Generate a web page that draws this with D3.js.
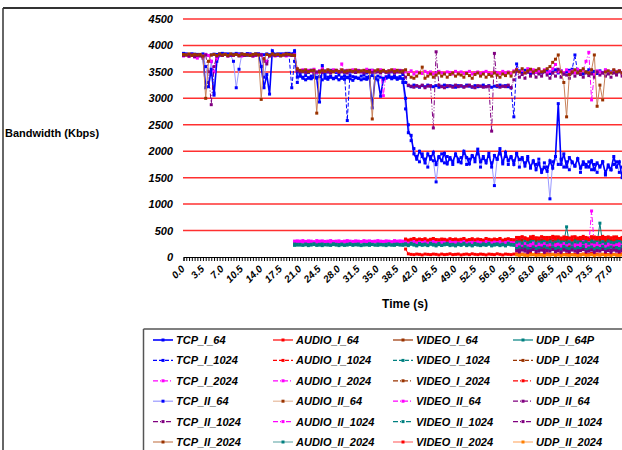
<!DOCTYPE html>
<html>
<head>
<meta charset="utf-8">
<script src="https://cdn.jsdelivr.net/npm/d3@7"></script>
<style>
body { margin: 0; overflow: hidden; background: #fff; }
text { font-family: 'Liberation Sans', Arial, sans-serif; }
</style>
</head>
<body>
<script>
// categories: one sample every 0.5 s
const times = d3.range(0, 80, 0.5)
const xTickLabels = ['0.0', '3.5', '7.0', '10.5', '14.0', '17.5', '21.0', '24.5', '28.0', '31.5', '35.0', '38.5',
    '42.0', '45.5', '49.0', '52.5', '56.0', '59.5', '63.0', '66.5', '70.0', '73.5', '77.0']
const yTicks = [0, 500, 1000, 1500, 2000, 2500, 3000, 3500, 4000, 4500]

const tcpI64 = [
    3850, 3840, 3830, 3820, 3835, 3810, 3830, 3800, 3200, 3220,
    3550, 3060, 3700, 3820, 3850, 3830, 3840, 3820, 3835, 3850,
    3830, 3840, 3825, 3845, 3830, 3820, 3840, 3830, 3600, 3200,
    3450, 3080, 3900, 3820, 3830, 3840, 3825, 3835, 3850, 3820,
    3900, 3400,
    3420, 3380, 3350, 3390, 3370, 3400, 3380, 2930, 3620, 3380,
    3360, 3400, 3370, 3390, 3350, 3380, 3360, 3400, 3370, 3340,
    3390, 3380, 3350, 3370, 3360, 3390, 2820, 3380, 3350, 3040,
    3360, 3380, 3400, 3370, 3390, 3360, 3380, 3370,
    3000, 2350, 2300, 1950, 1850, 2000, 1900, 1780, 1950, 1850,
    1980, 1750, 1900, 1820, 1960, 1760, 1880, 1800, 1950, 1850,
    1780, 2000, 1880, 1760, 1920, 1850, 2040, 1800, 1900, 1780,
    1960, 1700, 1920, 1850, 2050, 1760, 1980, 1820, 1900, 1750,
    1950, 1840, 1880, 1720, 1860, 1700, 1820, 1650, 1780, 1600,
    1700, 1620, 1820, 1680, 1900, 2900, 1750, 1950, 1700, 1880,
    1800, 1720, 1860, 1680, 1800, 1750, 1700, 1820, 1650, 1780,
    1700, 1800, 1580, 1740, 1650, 1900, 1700, 1800, 1500, 1750]

const tcpI1024 = [
    3840, 3830, 3820, 3835, 3810, 3830, 3825, 3840, 3830, 3810,
    3820, 3835, 3830, 3840, 3820, 3830, 3810, 3835, 3825, 3830,
    3840, 3820, 3830, 3815, 3840, 3830, 3820, 3835, 3830, 3825,
    3840, 3820, 3830, 3835, 3810, 3830, 3840, 3820, 3830, 3200,
    3700, 3500,
    3520, 3500, 3510, 3490, 3530, 3500, 3480, 3510, 3520, 3490,
    3500, 3530, 3510, 3490, 3500, 3520, 3480, 2580, 3500, 3510,
    3490, 3520, 3500, 3510, 3480, 3500, 3530, 3490, 3510, 3500,
    3520, 3490, 3510, 3500, 3480, 3520, 3500, 3450,
    3300, 3240, 3220, 3250, 3230, 3210, 3240, 3220, 3250, 3230,
    3220, 3240, 3210, 3230, 3250, 3220, 3240, 3230, 3210, 3240,
    3230, 3220, 3250, 3230, 3210, 3240, 3220, 3230, 3250, 3220,
    3240, 3210, 3230, 3220, 3250, 3230, 3240, 3220, 3200, 2650,
    3650, 3520, 3480, 3530, 3500, 3460, 3520, 3490, 3540, 3480,
    3510, 3530, 3470, 3500, 3540, 3480, 3520, 3460, 3500, 3530,
    3550, 3820, 3480, 3520, 3460, 3500, 3540, 3480, 3510, 3470,
    3520, 3490, 3530, 3470, 3500, 3520, 3480, 3510, 3490, 3500]

const tcpI2024 = [
    3800, 3820, 3790, 3810, 3780, 3760, 3820, 3800, 3830, 3810,
    3700, 3500, 3750, 3820, 3810, 3830, 3800, 3820, 3810, 3830,
    3820, 3800, 3810, 3830, 3820, 3800, 3810, 3830, 3820, 3750,
    3700, 3810, 3830, 3800, 3820, 3810, 3830, 3800, 3820, 3810,
    3830, 3550,
    3520, 3540, 3500, 3530, 3510, 3550, 3490, 3520, 3560, 3510,
    3530, 3500, 3540, 3520, 3510, 3650, 3500, 3530, 3520, 3540,
    3510, 3530, 3500, 3520, 3550, 3510, 3530, 3500, 3520, 3540,
    3050, 3500, 3520, 3510, 3540, 3500, 3530, 3520,
    3500, 3480, 3520, 3460, 3500, 3490, 3470, 3510, 3480, 3500,
    3460, 3490, 3510, 3480, 3470, 3500, 3490, 3460, 3510, 3480,
    3500, 3470, 3490, 3510, 3460, 3480, 3500, 3470, 3490, 3510,
    3480, 3460, 3500, 3490, 3470, 3510, 3480, 3500, 3460, 3520,
    3550, 3500, 3530, 3480, 3560, 3510, 3540, 3490, 3520, 3500,
    3540, 3480, 3510, 3560, 3640, 3500, 3520, 3480, 3540, 3500,
    3520, 3480, 3550, 3500, 3540, 3700, 3870, 2970, 3450, 3520,
    3500, 3480, 3540, 3510, 3490, 3530, 3500, 3520, 3480, 3510]

const tcpII64 = [
    3820, 3830, 3810, 3840, 3825, 3830, 3810, 3820, 3600, 3300,
    3700, 3100, 3750, 3830, 3820, 3840, 3830, 3810, 3700, 3200,
    3550, 3830, 3820, 3840, 3830, 3810, 3820, 3840, 3830, 3400,
    3700, 3820, 3830, 3810, 3840, 3820, 3830, 3850, 3820, 3840,
    3860, 3300,
    3450, 3400, 3430, 3380, 3420, 3440, 3400, 3410, 3350, 3430,
    3400, 3420, 3380, 3410, 3440, 3400, 3420, 3390, 3430, 3410,
    3400, 3380, 3420, 3440, 3400, 3410, 3430, 3390, 3420, 3400,
    3380, 3410, 3430, 3400, 3420, 3390, 3410, 3300,
    2800, 2500, 2200, 2050, 1900, 1800, 1950, 1850, 1700, 1900,
    1820, 1420, 1880, 1950, 1780, 1900, 1850, 1750, 1920, 1800,
    1880, 1960, 1750, 1850, 1900, 1800, 1950, 1700, 1860, 1820,
    1900, 1780, 1350, 1850, 1950, 1800, 1900, 1750, 1880, 1820,
    1960, 1700, 1850, 1780, 1900, 1680, 1800, 1750, 1850, 1650,
    1780, 1700, 1100, 1800, 1900, 1750, 1850, 1700, 1800, 1650,
    1780, 1720, 1850, 1600, 1750, 1700, 1800, 1650, 1750, 1600,
    1720, 1800, 1550, 1700, 1650, 1750, 1800, 1600, 1700, 1650]

const tcpII1024 = [
    3810, 3820, 3800, 3830, 3790, 3815, 3800, 3760, 3820, 3500,
    2880, 3600, 3800, 3820, 3810, 3830, 3800, 3820, 3815, 3830,
    3800, 3820, 3810, 3830, 3820, 3800, 3815, 3830, 3820, 3700,
    3650, 3800, 3820, 3810, 3830, 3800, 3820, 3815, 3830, 3810,
    3820, 3520,
    3500, 3520, 3490, 3510, 3530, 3480, 3500, 3510, 3490, 3520,
    3500, 3480, 3510, 3530, 3490, 3500, 3520, 3480, 3510, 3500,
    3490, 3520, 3510, 3480, 3500, 3530, 3490, 3510, 3500, 3480,
    3520, 3500, 3490, 3510, 3480, 3500, 3520, 3490,
    3400, 3250, 3230, 3210, 3240, 3220, 3250, 3200, 3230, 3240,
    2440, 3880, 3250, 3220, 3200, 3240, 3230, 3210, 3250, 3220,
    3240, 3210, 3230, 3250, 3220, 3200, 3240, 3230, 3210, 3220,
    3230, 2380, 3850, 3240, 3210, 3230, 3220, 3250, 3200, 3350,
    3520, 3400, 3450, 3380, 3500, 3420, 3480, 3400, 3460, 3420,
    3500, 3440, 3380, 3480, 3420, 3550, 3400, 3460, 3440, 3380,
    3480, 3420, 3500, 3450, 3400, 3480, 3430, 3460, 3400, 3500,
    3440, 3480, 3420, 3460, 3400, 3480, 3440, 3500, 3420, 3460]

const tcpII2024 = [
    3830, 3820, 3840, 3810, 3830, 3820, 3830, 3800, 3000, 3700,
    3820, 3830, 3810, 3840, 3820, 3830, 3810, 3840, 3820, 3830,
    3810, 3840, 3830, 3820, 3810, 3830, 3840, 3820, 2980, 3750,
    3830, 3810, 3840, 3820, 3830, 3810, 3820, 3840, 3830, 3820,
    3810, 3560,
    3530, 3510, 3540, 3500, 3520, 3530, 2720, 3500, 3530, 3510,
    3540, 3520, 3500, 3530, 3510, 3540, 3500, 3520, 3530, 3510,
    3540, 3500, 3520, 3530, 3510, 3500, 2610, 3520, 3540, 3510,
    3530, 3500, 3520, 3540, 3510, 3530, 3500, 3520,
    3540, 3450, 3400, 3380, 3420, 3480, 3590, 3380, 3420, 3460,
    3400, 3440, 3480, 3420, 3460, 3400, 3450, 3480, 3420, 3460,
    3440, 3400, 3470, 3430, 3380, 3450, 3480, 3420, 3460, 3400,
    3450, 3420, 3480, 3440, 3400, 3460, 3430, 3480, 3420, 3500,
    3540, 3500, 3560, 3480, 3520, 3550, 3500, 3530, 3560, 3500,
    3520, 3560, 3600, 3680, 3740, 3820, 3500, 3300, 2650, 3450,
    3500, 3540, 3480, 3520, 3560, 3500, 3480, 3540, 3820, 2850,
    3250, 2970, 3500, 3520, 3480, 3540, 3500, 3520, 3480, 3510]

// series that start at 20 s
const audioII1024 = [
    300, 305,
    300, 310, 295, 305, 300, 290, 310, 300, 305, 295,
    300, 310, 295, 300, 305, 290, 300, 310, 300, 295,
    305, 300, 290, 310, 300, 305, 295, 300, 310, 300,
    295, 305, 300, 290, 310, 300, 305, 300,
    310, 290, 320, 300, 280, 315, 295, 305, 285, 320,
    300, 290, 315, 280, 305, 320, 295, 300, 285, 310,
    295, 320, 290, 305, 280, 315, 300, 290, 310, 295,
    320, 285, 300, 310, 290, 305, 280, 320, 300, 295,
    250, 280, 230, 300, 260, 240, 290, 220, 270, 250,
    300, 240, 280, 260, 230, 290, 250, 270, 240, 300,
    260, 230, 280, 250, 290, 240, 270, 230, 260, 280,
    250, 290, 240, 270, 230, 260, 280, 250, 240, 270]

const videoII64 = [
    280, 285,
    285, 280, 290, 275, 285, 280, 270, 290, 280, 285,
    275, 280, 290, 280, 270, 285, 280, 290, 275, 280,
    285, 270, 290, 280, 275, 285, 280, 290, 270, 280,
    285, 275, 290, 280, 285, 270, 280, 290,
    290, 270, 300, 280, 260, 295, 275, 285, 265, 300,
    280, 270, 295, 260, 285, 300, 275, 280, 265, 290,
    275, 300, 270, 285, 260, 295, 280, 270, 290, 275,
    300, 265, 280, 290, 270, 285, 260, 300, 280, 275,
    200, 230, 180, 250, 210, 190, 240, 170, 220, 200,
    250, 190, 230, 210, 180, 240, 200, 220, 190, 250,
    210, 180, 230, 200, 240, 190, 220, 870, 210, 230,
    200, 240, 190, 220, 180, 210, 230, 200, 190, 220]

const audioII2024 = [
    245, 240,
    240, 230, 245, 235, 240, 250, 230, 240, 245, 235,
    240, 230, 250, 240, 235, 245, 230, 240, 250, 235,
    240, 245, 230, 240, 235, 250, 240, 230, 245, 240,
    235, 240, 250, 230, 240, 245, 235, 240,
    250, 230, 260, 240, 220, 255, 235, 245, 225, 260,
    240, 230, 255, 220, 245, 260, 235, 240, 225, 250,
    235, 260, 230, 245, 220, 255, 240, 230, 250, 235,
    260, 225, 240, 250, 230, 245, 220, 260, 240, 235,
    280, 300, 260, 310, 270, 290, 320, 260, 300, 280,
    310, 270, 290, 260, 300, 300, 280, 310, 270, 290,
    260, 300, 280, 310, 270, 290, 260, 300, 280, 310,
    270, 290, 260, 300, 280, 270, 290, 310, 280, 300]

const videoII1024 = [
    220, 225,
    225, 220, 230, 215, 225, 235, 220, 225, 215, 230,
    225, 220, 235, 225, 215, 230, 220, 225, 235, 220,
    230, 225, 215, 225, 230, 220, 235, 225, 220, 230,
    225, 215, 230, 225, 220, 235, 225, 220,
    230, 215, 240, 225, 210, 235, 220, 230, 215, 240,
    225, 210, 235, 220, 230, 240, 215, 225, 210, 235,
    220, 240, 215, 230, 210, 235, 225, 215, 230, 220,
    240, 210, 225, 235, 215, 230, 210, 240, 225, 220,
    160, 190, 150, 200, 170, 140, 190, 160, 180, 150,
    200, 170, 140, 190, 160, 180, 150, 200, 170, 160,
    190, 150, 180, 160, 200, 140, 170, 190, 150, 180,
    160, 200, 150, 170, 190, 140, 180, 160, 200, 170]

// series that start at 40 s
const audioI64 = [
    150, 60, 50, 45, 55, 50, 40, 55, 50, 45,
    55, 50, 40, 55, 45, 50, 60, 45, 50, 55,
    40, 50, 55, 45, 60, 50, 45, 55, 50, 40,
    55, 50, 45, 60, 50, 40, 55, 50, 45, 55,
    60, 45, 55, 40, 50, 65, 45, 55, 50, 40,
    55, 60, 45, 50, 40, 55, 65, 45, 50, 55,
    45, 50, 60, 40, 55, 50, 45, 65, 50, 55,
    40, 50, 60, 45, 55, 50, 40, 55, 60, 45]

const audioI1024 = [
    330, 310, 325, 340, 315, 330, 320, 335, 310, 325,
    340, 320, 315, 330, 325, 310, 335, 320, 330, 315,
    325, 340, 310, 320, 335, 315, 330, 320, 310, 340,
    325, 315, 330, 320, 340, 310, 325, 335, 320, 315,
    350, 370, 330, 360, 340, 380, 320, 360, 350, 340,
    370, 330, 360, 350, 380, 340, 360, 330, 370, 350,
    340, 380, 350, 360, 330, 370, 340, 360, 380, 350,
    360, 330, 370, 340, 360, 350, 380, 340, 360, 330]

const audioI2024 = [
    300, 280, 295, 310, 285, 300, 290, 305, 280, 295,
    310, 290, 285, 300, 295, 280, 305, 290, 300, 285,
    295, 310, 280, 290, 305, 285, 300, 290, 280, 310,
    295, 285, 300, 290, 310, 280, 295, 305, 290, 285,
    320, 300, 340, 310, 290, 330, 300, 320, 310, 340,
    300, 320, 290, 330, 310, 300, 340, 310, 320, 300,
    330, 310, 300, 340, 320, 290, 330, 310, 300, 320,
    310, 340, 300, 320, 290, 330, 310, 300, 320, 340]

const audioII64 = [
    285, 270, 295, 280, 265, 290, 275, 285, 270, 295,
    280, 265, 290, 275, 285, 295, 270, 280, 265, 290,
    275, 295, 270, 285, 265, 290, 280, 270, 295, 275,
    290, 265, 280, 295, 270, 285, 265, 290, 280, 275,
    300, 280, 320, 290, 270, 310, 290, 300, 280, 320,
    290, 270, 310, 300, 280, 320, 290, 280, 310, 300,
    270, 320, 300, 280, 310, 290, 270, 320, 300, 280,
    310, 290, 280, 320, 300, 270, 310, 290, 280, 300]

const videoI64 = [
    270, 260, 275, 255, 270, 265, 280, 260, 270, 255,
    265, 280, 260, 270, 255, 275, 265, 260, 280, 270,
    255, 265, 275, 260, 270, 280, 255, 265, 270, 260,
    275, 255, 270, 265, 280, 260, 270, 255, 265, 275,
    240, 270, 230, 260, 250, 280, 240, 260, 230, 270,
    250, 240, 280, 260, 230, 270, 250, 240, 260, 280,
    230, 260, 250, 270, 240, 280, 250, 230, 260, 270,
    240, 250, 270, 230, 260, 280, 240, 250, 270, 260]

const videoI1024 = [
    250, 240, 260, 245, 255, 235, 250, 260, 240, 255,
    245, 250, 235, 260, 250, 240, 255, 245, 260, 235,
    250, 255, 240, 245, 260, 250, 235, 255, 245, 240,
    260, 250, 245, 235, 255, 260, 240, 250, 245, 255,
    230, 250, 220, 260, 240, 210, 250, 230, 260, 220,
    240, 250, 220, 230, 260, 240, 210, 250, 230, 240,
    260, 220, 250, 230, 240, 210, 260, 250, 220, 240,
    230, 260, 240, 220, 250, 230, 260, 240, 220, 250]

const videoI2024 = [
    310, 295, 305, 290, 315, 300, 295, 310, 290, 305,
    300, 315, 295, 305, 290, 310, 300, 295, 315, 305,
    290, 300, 310, 295, 305, 315, 290, 300, 310, 295,
    305, 290, 315, 300, 295, 310, 305, 290, 300, 315,
    280, 300, 260, 290, 270, 310, 280, 260, 300, 270,
    290, 260, 310, 280, 270, 300, 260, 290, 280, 310,
    270, 290, 260, 300, 280, 270, 310, 290, 260, 280,
    300, 270, 290, 260, 310, 280, 270, 300, 290, 260]

const videoII2024 = [
    340, 320, 335, 350, 325, 340, 330, 345, 320, 335,
    350, 330, 325, 340, 335, 320, 345, 330, 340, 325,
    335, 350, 320, 330, 345, 325, 340, 330, 320, 350,
    335, 325, 340, 330, 350, 320, 335, 345, 330, 325,
    360, 340, 380, 350, 330, 370, 350, 360, 340, 380,
    350, 330, 370, 360, 340, 380, 350, 340, 370, 360,
    330, 380, 360, 340, 370, 350, 330, 380, 360, 340,
    370, 350, 340, 380, 360, 330, 370, 350, 340, 360]

// series that start at 60 s
const udpI64P = [
    260, 240, 270, 250, 230, 260, 280, 240, 250, 270,
    230, 260, 250, 280, 240, 260, 230, 270, 570, 250,
    240, 270, 260, 230, 280, 250, 240, 270, 260, 250,
    640, 240, 270, 250, 230, 260, 280, 240, 250, 270]

const udpI1024 = [
    210, 190, 220, 200, 180, 210, 230, 190, 200, 220,
    180, 210, 200, 230, 190, 210, 180, 220, 200, 190,
    220, 200, 180, 210, 230, 190, 200, 220, 180, 210,
    200, 230, 190, 210, 180, 220, 200, 190, 210, 230]

const udpI2024 = [
    370, 350, 380, 360, 340, 370, 390, 350, 360, 380,
    340, 370, 360, 390, 350, 370, 340, 380, 360, 350,
    380, 360, 340, 370, 390, 350, 360, 380, 340, 370,
    360, 390, 350, 370, 340, 380, 360, 350, 370, 390]

const udpII64 = [
    160, 140, 170, 150, 130, 160, 180, 140, 150, 170,
    130, 160, 150, 180, 140, 160, 130, 170, 150, 140,
    170, 150, 130, 160, 180, 140, 150, 170, 130, 160,
    150, 180, 140, 160, 130, 170, 150, 140, 160, 180]

const udpII1024 = [
    120, 100, 130, 110, 90, 120, 140, 100, 110, 130,
    90, 120, 110, 140, 100, 120, 90, 130, 110, 100,
    130, 110, 90, 120, 140, 100, 110, 130, 90, 120,
    110, 140, 100, 120, 90, 130, 110, 100, 120, 140]

const udpII2024 = [
    40, 30, 45, 35, 25, 40, 50, 30, 35, 45,
    25, 40, 35, 50, 30, 40, 25, 45, 35, 30,
    45, 35, 25, 40, 50, 30, 35, 45, 25, 40,
    35, 50, 30, 40, 25, 45, 35, 30, 40, 50]

// legend order (row by row, four columns)
const seriesNames = ['TCP_I_64', 'AUDIO_I_64', 'VIDEO_I_64', 'UDP_I_64P',
    'TCP_I_1024', 'AUDIO_I_1024', 'VIDEO_I_1024', 'UDP_I_1024',
    'TCP_I_2024', 'AUDIO_I_2024', 'VIDEO_I_2024', 'UDP_I_2024',
    'TCP_II_64', 'AUDIO_II_64', 'VIDEO_II_64', 'UDP_II_64',
    'TCP_II_1024', 'AUDIO_II_1024', 'VIDEO_II_1024', 'UDP_II_1024',
    'TCP_II_2024', 'AUDIO_II_2024', 'VIDEO_II_2024', 'UDP_II_2024']
const seriesValues = [tcpI64, audioI64, videoI64, udpI64P,
    tcpI1024, audioI1024, videoI1024, udpI1024,
    tcpI2024, audioI2024, videoI2024, udpI2024,
    tcpII64, audioII64, videoII64, udpII64,
    tcpII1024, audioII1024, videoII1024, udpII1024,
    tcpII2024, audioII2024, videoII2024, udpII2024]
// first sample index of each series (0 = 0 s, 40 = 20 s, 80 = 40 s, 120 = 60 s)
const seriesStart = [0, 80, 80, 120,
    0, 80, 80, 120,
    0, 80, 80, 120,
    0, 80, 40, 120,
    0, 40, 40, 120,
    0, 40, 80, 120]

// styles
const lineColor = ['#0000ff', '#ff0000', '#993300', '#008080',
    '#0000ff', '#ff0000', '#008080', '#993300',
    '#ff00ff', '#ff00ff', '#993300', '#ff0000',
    '#9999ff', '#e6b99c', '#ff00ff', '#800080',
    '#800080', '#ff00ff', '#008080', '#800080',
    '#c8825a', '#70b0b0', '#ff7070', '#ffb070']
const markColor = ['#0000ff', '#ff0000', '#993300', '#008080',
    '#0000ff', '#ff0000', '#008080', '#993300',
    '#ff00ff', '#ff00ff', '#993300', '#ff0000',
    '#0000ff', '#993300', '#ff00ff', '#800080',
    '#800080', '#ff00ff', '#008080', '#800080',
    '#993300', '#008080', '#ff0000', '#ff8000']
const dash = { s: null, d: '4,2', dd: '5,2,1,2', ddd: '5,2,1,2,1,2' }
const lineDash = ['s', 's', 's', 's',
    'd', 'd', 'd', 'd',
    'dd', 'dd', 'dd', 'dd',
    's', 's', 'dd', 'dd',
    'ddd', 'ddd', 'ddd', 'ddd',
    's', 's', 's', 's']

const svg = d3.select('body').append('svg')
    .attr('width', 622)
    .attr('height', 450)

// outer frame
svg.append('line').attr('x1', 3).attr('x2', 622).attr('y1', 8).attr('y2', 8)
    .attr('stroke', '#333').attr('stroke-width', 2)
svg.append('line').attr('x1', 3).attr('x2', 3).attr('y1', 8).attr('y2', 450)
    .attr('stroke', '#333').attr('stroke-width', 1.5)

const x = d3.scalePoint().domain(times).range([183.5, 183.5 + 159 * 2.776])
const y = d3.scaleLinear().domain([0, 4500]).range([257, 19])

// gridlines
svg.append('g').selectAll('line')
    .data(yTicks.slice(1))
    .enter()
    .append('line')
    .attr('x1', 183).attr('x2', 622)
    .attr('y1', function(d) { return y(d) })
    .attr('y2', function(d) { return y(d) })
    .attr('stroke', '#ff3030')
    .attr('stroke-width', 1.5)

// y labels
const yAxis = svg.append('g')
    .attr('transform', 'translate(177,0)')
    .call(d3.axisLeft(y).tickValues(yTicks).tickSize(0).tickPadding(4).tickFormat(d3.format('d')))
yAxis.select('.domain').remove()
yAxis.attr('font-family', null).attr('font-size', 11)
yAxis.selectAll('text').attr('font-weight', 'bold').attr('font-style', 'italic').attr('fill', '#000')

// x axis: tick at every category
const xAxis = svg.append('g')
    .attr('transform', 'translate(0,257)')
    .call(d3.axisBottom(x).tickSize(4).tickFormat(''))
xAxis.select('.domain').attr('stroke', '#000')
xAxis.selectAll('.tick line').attr('stroke', '#000')

const xLab = svg.append('g')
    .attr('transform', 'translate(0,257)')
    .call(d3.axisBottom(x).tickValues(xTickLabels.map(Number)).tickSize(0).tickFormat(d3.format('.1f')))
xLab.select('.domain').remove()
xLab.attr('font-family', null).attr('font-size', 10)
xLab.selectAll('text')
    .attr('y', 0).attr('dy', '0.35em')
    .attr('text-anchor', 'end')
    .attr('transform', 'translate(-1,10) rotate(-45)')
    .attr('font-weight', 'bold').attr('font-style', 'italic').attr('fill', '#000')

// axis titles
svg.append('text').text('Bandwidth (Kbps)')
    .attr('x', 5).attr('y', 137)
    .attr('font-size', 11).attr('font-weight', 'bold')
svg.append('text').text('Time (s)')
    .attr('x', 405).attr('y', 308)
    .attr('text-anchor', 'middle')
    .attr('font-size', 12).attr('font-weight', 'bold')

// series
svg.append('clipPath').attr('id', 'plotclip')
    .append('rect').attr('x', 180).attr('y', 10).attr('width', 442).attr('height', 252)
const plot = svg.append('g').attr('clip-path', 'url(#plotclip)')
const line = d3.line()
    .x(function(d) { return x(d.t) })
    .y(function(d) { return y(d.v) })

// draw TCP_II_64 first so TCP_I_64 stays on top
const drawOrder = [12].concat(d3.range(24).filter(function(k) { return k !== 12 }))
drawOrder.forEach(function(k) {
    const pts = seriesValues[k].map(function(v, j) { return { t: times[seriesStart[k] + j], v: v } })
        .filter(function(p) { return p.t !== undefined })
    plot.append('path')
        .datum(pts)
        .attr('d', line)
        .attr('fill', 'none')
        .attr('stroke', lineColor[k])
        .attr('stroke-width', k === 0 ? 1.6 : 1)
        .attr('stroke-dasharray', dash[lineDash[k]])
    plot.append('g').selectAll('rect')
        .data(pts)
        .enter()
        .append('rect')
        .attr('x', function(d) { return x(d.t) - 1.5 })
        .attr('y', function(d) { return y(d.v) - 1.5 })
        .attr('width', 3)
        .attr('height', 3)
        .attr('fill', markColor[k])
})

// legend
const legend = svg.append('g')
legend.append('line').attr('x1', 143.5).attr('x2', 622).attr('y1', 329).attr('y2', 329)
    .attr('stroke', '#555').attr('stroke-width', 1.5)
legend.append('line').attr('x1', 143.5).attr('x2', 143.5).attr('y1', 329).attr('y2', 450)
    .attr('stroke', '#555').attr('stroke-width', 1.5)

seriesNames.forEach(function(name, k) {
    const lx = 153 + (k % 4) * 120
    const ly = 340 + Math.floor(k / 4) * 20.4
    legend.append('line')
        .attr('x1', lx).attr('x2', lx + 20).attr('y1', ly).attr('y2', ly)
        .attr('stroke', lineColor[k])
        .attr('stroke-width', k === 0 ? 1.6 : 1.2)
        .attr('stroke-dasharray', dash[lineDash[k]])
    legend.append('rect')
        .attr('x', lx + 8.5).attr('y', ly - 1.5).attr('width', 3).attr('height', 3)
        .attr('fill', markColor[k])
    legend.append('text')
        .text(name)
        .attr('x', lx + 23).attr('y', ly + 4)
        .attr('font-size', 11).attr('font-weight', 'bold').attr('font-style', 'italic')
})
</script>
</body>
</html>
